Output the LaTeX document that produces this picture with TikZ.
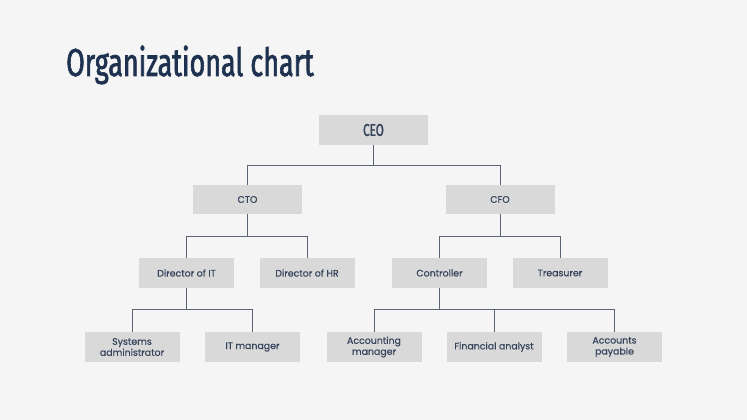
\documentclass[tikz,border=0pt]{standalone}
\usepackage{fontspec}
\setmainfont[FakeBold=0.4]{Poppins}
\newfontfamily\titlefont[FakeStretch=0.69,FakeBold=1.6]{Fira Sans}
\usepackage{xcolor}
\usetikzlibrary{positioning,calc}

\definecolor{bgcol}{HTML}{F5F5F5}
\definecolor{boxcol}{HTML}{D9D9D9}
\definecolor{navy}{HTML}{1E3250}
\definecolor{txtcol}{HTML}{34435A}
\definecolor{linecol}{HTML}{5A6472}

\begin{document}
\begin{tikzpicture}[
    x=1pt, y=-1pt,
    font=\fontsize{9.4}{11}\selectfont,
    box/.style={fill=boxcol, text=txtcol, align=center, inner sep=0pt, minimum width=95pt, minimum height=30pt},
    topbox/.style={box, minimum width=109pt},
    link/.style={draw=linecol, line width=0.9pt}
]

% background
\fill[bgcol] (0,0) rectangle (747,420);
\useasboundingbox (0,0) rectangle (747,420);

% title
\node[anchor=base west, inner sep=0pt, text=navy, font=\titlefont\fontsize{39}{44}\selectfont] (title) at (66,76) {Organizational chart};

% top level
\node[topbox, minimum height=30pt, font=\titlefont\fontsize{17}{18}\selectfont] (ceo) at (373.5,130) {CEO};

% second level
\node[topbox, minimum height=29pt] (cto) at (247.5,199.5) {CTO};
\node[topbox, minimum height=29pt] (cfo) at (500,199.5) {CFO};

% third level
\node[box] (dirit) at (186.5,273) {Director of IT};
\node[box] (dirhr) at (307,273) {Director of HR};
\node[box] (ctrl) at (439.5,273) {Controller};
\node[box] (treas) at (560,273) {Treasurer};

% fourth level
\node[box] (sysadm) at (132,347) {Systems\\administrator};
\node[box] (itman) at (252.5,347) {IT manager};
\node[box] (accman) at (374,347) {Accounting\\manager};
\node[box] (finan) at (494,347) {Financial analyst};
\node[box] (accpay) at (614.5,347) {Accounts\\payable};

% bus lines
\coordinate (bus1) at (0,165);
\coordinate (bus2) at (0,236);
\coordinate (bus3) at (0,309.5);

% connectors
\draw[link] (ceo.south) -- (ceo.south |- bus1);
\draw[link] (cto.north) |- (cfo.north |- bus1) -- (cfo.north);

\draw[link] (cto.south) -- (cto.south |- bus2);
\draw[link] (dirit.north) |- (dirhr.north |- bus2) -- (dirhr.north);

\draw[link] (cfo.south) -- (cfo.south |- bus2);
\draw[link] (ctrl.north) |- (treas.north |- bus2) -- (treas.north);

\draw[link] (dirit.south) -- (dirit.south |- bus3);
\draw[link] (sysadm.north) |- (itman.north |- bus3) -- (itman.north);

\draw[link] (ctrl.south) -- (ctrl.south |- bus3);
\draw[link] (accman.north) |- (accpay.north |- bus3) -- (accpay.north);
\draw[link] (finan.north) -- (finan.north |- bus3);

\end{tikzpicture}
\end{document}
